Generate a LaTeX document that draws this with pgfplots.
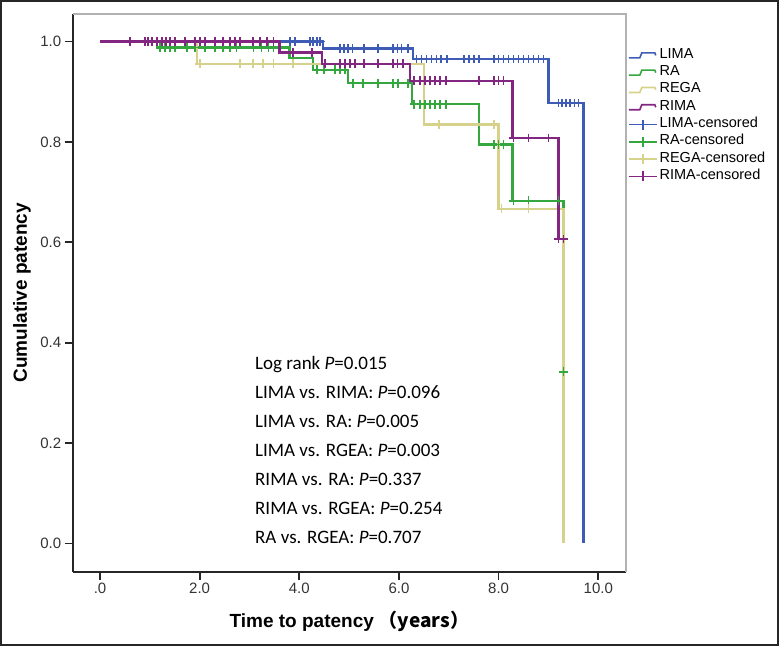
\documentclass[border=0pt]{standalone}
\usepackage{fontspec}
\setmainfont{Liberation Sans}
\newfontfamily\carlito{Carlito}
\newfontfamily\cjk{Noto Sans CJK SC}
\usepackage{pgfplots}
\pgfplotsset{compat=1.18}
\definecolor{cLIMA}{RGB}{62,92,182}
\definecolor{cRA}{RGB}{52,168,62}
\definecolor{cREGA}{RGB}{214,210,140}
\definecolor{cRIMA}{RGB}{130,38,130}
\pgfplotsset{
  kmline/.style={line width=2.3pt, const plot mark left, mark=none,
    legend image code/.code={\draw[##1,mark=none,line width=1.6pt] (0pt,-2.5pt) -- (11pt,-2.5pt) -- (13pt,2.5pt) -- (26pt,2.5pt) -- (27pt,0pt);}},
  kmcens/.style={only marks, mark=+, mark size=4.3pt, mark options={line width=1.7pt,solid}, forget plot},
  censimg/.style={legend image code/.code={\draw[##1,line width=1.6pt] (0pt,0pt) -- (28pt,0pt); \draw[##1,line width=1.6pt] (14pt,-5pt) -- (14pt,5pt);}},
}
\begin{document}
\begin{tikzpicture}[x=1pt,y=1pt]
\path[use as bounding box] (0,0) rectangle (779,646);
\draw[line width=1.6pt, black!85] (0.8,0.8) rectangle (778.2,645.2);
\begin{axis}[
  at={(72.7pt,74.5pt)}, anchor=south west,
  scale only axis, width=553.3pt, height=557.5pt,
  xmin=-0.548, xmax=10.556, ymin=-0.056, ymax=1.055,
  axis x line*=bottom, axis y line*=left,
  axis line style={line width=2pt, black!85, -},
  xtick={0,2,4,6,8,10}, xticklabels={.0,2.0,4.0,6.0,8.0,10.0},
  ytick={0,0.2,0.4,0.6,0.8,1.0}, yticklabels={0.0,0.2,0.4,0.6,0.8,1.0},
  minor tick num=0,
  tick align=outside, major tick length=8pt,
  tick style={line width=1.7pt, black!85},
  ticklabel style={font=\fontsize{15}{17}\selectfont, text=black!80},
  /pgf/number format/assume math mode=true,
  xlabel={Time to patency\hspace{5pt}\cjk{（}years\cjk{）}},
  ylabel={Cumulative patency},
  label style={font=\bfseries\fontsize{19}{22}\selectfont},
  xlabel style={at={(axis description cs:0.5,-0.0888)}, anchor=center},
  ylabel style={at={(axis description cs:-0.0916,0.5)}, anchor=center, rotate=0},
  legend style={at={(1.0036,0.9413)}, anchor=north west, draw=none, fill=none,
    inner sep=0pt, outer sep=0pt, font=\fontsize{14.5}{17}\selectfont,
    nodes={inner sep=0pt, text height=11.5pt, text depth=5.8pt},
    row sep=0pt, column sep=2pt},
  legend cell align=left,
  clip=false,
]
\draw[black!30, line width=1.6pt] (rel axis cs:0,1) -- (rel axis cs:1,1) -- (rel axis cs:1,0);

% survival curves
\addplot[kmline, cLIMA] coordinates {(0,1) (4.47,0.986) (6.28,0.965) (9.0,0.878) (9.7,0)};
\addplot[kmline, cRA] coordinates {(0,1) (1.14,0.988) (3.8,0.967) (4.28,0.944) (4.97,0.917) (6.26,0.875) (7.6,0.795) (8.28,0.683) (9.3,0.342)};
\addplot[kmline, cREGA] coordinates {(0,1) (1.94,0.956) (6.5,0.835) (8.0,0.667) (9.3,0)};
\addplot[kmline, cRIMA] coordinates {(0,1) (3.6,0.978) (4.46,0.956) (6.22,0.922) (8.28,0.808) (9.2,0.607) (9.3,0.607)};

% censored marks
\addplot[kmcens, cLIMA] coordinates {
 (3.81,1) (3.91,1) (4.21,1) (4.28,1) (4.35,1) (4.42,1)
 (4.82,0.986) (4.9,0.986) (4.98,0.986) (5.07,0.986) (5.3,0.986) (5.58,0.986) (5.88,0.986) (5.97,0.986) (6.05,0.986) (6.18,0.986)
 (6.35,0.965) (6.45,0.965) (6.55,0.965) (6.65,0.965) (6.75,0.965) (6.85,0.965) (6.97,0.965)
 (7.3,0.965) (7.4,0.965) (7.5,0.965) (7.6,0.965)
 (7.9,0.965) (8.0,0.965) (8.1,0.965) (8.2,0.965) (8.3,0.965) (8.4,0.965) (8.5,0.965) (8.6,0.965) (8.7,0.965) (8.8,0.965) (8.9,0.965)
 (9.2,0.878) (9.27,0.878) (9.35,0.878) (9.43,0.878) (9.52,0.878) (9.6,0.878)};
\addplot[kmcens, cRA] coordinates {
 (1.2,0.988) (1.3,0.988) (1.4,0.988) (1.5,0.988) (1.74,0.988) (1.91,0.988) (2.11,0.988) (2.31,0.988) (2.47,0.988) (2.61,0.988) (2.74,0.988) (3.08,0.988) (3.24,0.988) (3.38,0.988) (3.48,0.988)
 (4.35,0.944) (4.5,0.944) (4.72,0.944) (4.82,0.944) (4.92,0.944)
 (5.08,0.917) (5.28,0.917) (5.58,0.917) (5.88,0.917) (5.98,0.917) (6.18,0.917)
 (6.3,0.875) (6.42,0.875) (6.52,0.875) (6.62,0.875) (6.72,0.875) (6.82,0.875) (6.95,0.875)
 (7.9,0.795) (8.0,0.795) (8.1,0.795)
 (8.3,0.683) (8.6,0.683) (9.2,0.683)
 (9.3,0.342)};
\addplot[kmcens, cREGA] coordinates {
 (2.0,0.956) (2.81,0.956) (3.07,0.956) (3.27,0.956) (3.48,0.956) (3.88,0.956)
 (6.8,0.835) (7.9,0.835)
 (8.06,0.667) (8.6,0.667)};
\addplot[kmcens, cRIMA] coordinates {
 (0.6,1) (0.9,1) (0.97,1) (1.04,1) (1.14,1) (1.24,1) (1.33,1) (1.41,1) (1.51,1) (1.71,1) (1.91,1) (2.01,1) (2.11,1) (2.31,1) (2.47,1) (2.61,1) (2.71,1) (2.81,1) (3.07,1) (3.21,1) (3.35,1) (3.48,1)
 (3.88,0.978) (4.25,0.978)
 (4.52,0.956) (4.82,0.956) (4.92,0.956) (5.02,0.956) (5.12,0.956) (5.3,0.956) (5.58,0.956) (5.88,0.956) (5.97,0.956) (6.08,0.956)
 (6.3,0.922) (6.42,0.922) (6.52,0.922) (6.62,0.922) (6.72,0.922) (6.82,0.922) (6.95,0.922) (7.6,0.922) (7.9,0.922) (8.0,0.922) (8.1,0.922)
 (8.3,0.808) (8.6,0.808) (9.0,0.808)
 (9.2,0.607) (9.3,0.607)};

\addlegendimage{censimg, cLIMA}
\addlegendimage{censimg, cRA}
\addlegendimage{censimg, cREGA}
\addlegendimage{censimg, cRIMA}
\legend{LIMA, RA, REGA, RIMA, LIMA-censored, RA-censored, REGA-censored, RIMA-censored}

\begin{scope}[every node/.style={anchor=base west, inner sep=0pt, font=\carlito\fontsize{19}{22}\selectfont}]
\node at (axis cs:3.11,0.3469) {Log rank \textit{P}=0.015};
\node at (axis cs:3.11,0.2890) {LIMA vs. RIMA: \textit{P}=0.096};
\node at (axis cs:3.11,0.2312) {LIMA vs. RA: \textit{P}=0.005};
\node at (axis cs:3.11,0.1734) {LIMA vs. RGEA: \textit{P}=0.003};
\node at (axis cs:3.11,0.1156) {RIMA vs. RA: \textit{P}=0.337};
\node at (axis cs:3.11,0.0578) {RIMA vs. RGEA: \textit{P}=0.254};
\node at (axis cs:3.11,0.0000) {RA vs. RGEA: \textit{P}=0.707};
\end{scope}
\end{axis}
\end{tikzpicture}
\end{document}
